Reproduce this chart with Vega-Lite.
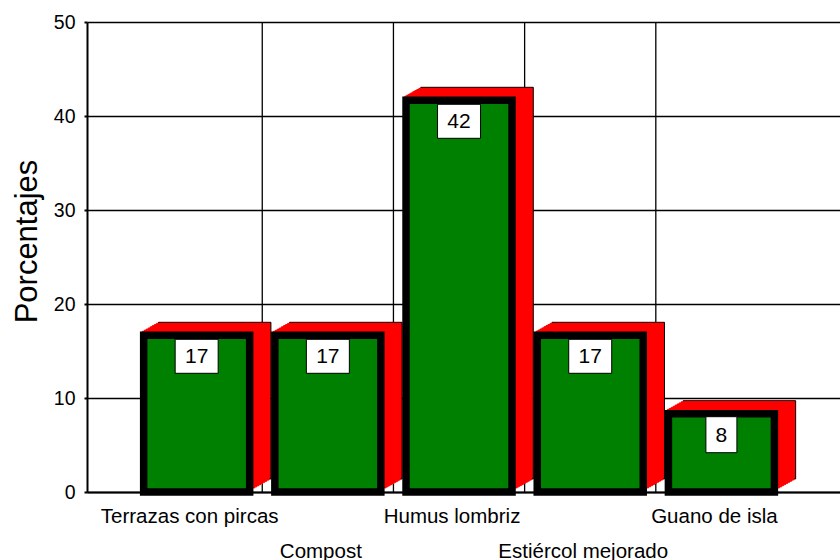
{
  "$schema": "https://vega.github.io/schema/vega-lite/v6.json",
  "width": 753,
  "height": 470,
  "autosize": {"type": "none"},
  "padding": {"left": 87, "top": 22, "right": 0, "bottom": 68},
  "background": "white",
  "config": {"view": {"stroke": null}, "font": "Liberation Sans"},
  "data": {
    "values": [
      {"cat": "Terrazas con pircas", "v": 16.67},
      {"cat": "Compost", "v": 16.67},
      {"cat": "Humus lombriz", "v": 41.67},
      {"cat": "Estiércol mejorado", "v": 16.67},
      {"cat": "Guano de isla", "v": 8.33}
    ]
  },
  "encoding": {
    "x": {
      "field": "cat",
      "type": "nominal",
      "sort": null,
      "scale": {
        "type": "band",
        "domain": ["Terrazas con pircas", "Compost", "Humus lombriz", "Estiércol mejorado", "Guano de isla"],
        "paddingInner": 0,
        "paddingOuter": 0.37,
        "align": 0.454
      },
      "axis": {
        "title": null,
        "domain": true,
        "domainColor": "black",
        "domainWidth": 2,
        "ticks": false,
        "grid": false,
        "labelFont": "Liberation Sans",
        "labelFontSize": 20.5,
        "labelColor": "black",
        "labelAngle": 0,
        "labelBaseline": "alphabetic",
        "labelPadding": 30,
        "labelLineHeight": 35,
        "labelOffset": -7,
        "labelLimit": 0,
        "labelOverlap": false,
        "labelExpr": "indexof(['Compost','Estiércol mejorado'], datum.value) >= 0 ? ['', datum.label] : datum.label"
      }
    },
    "y": {
      "field": "v",
      "type": "quantitative",
      "scale": {"domain": [0, 50], "nice": false},
      "axis": {
        "title": "Porcentajes",
        "titleFont": "Liberation Sans",
        "titleFontSize": 31,
        "titleFontWeight": "normal",
        "titleColor": "black",
        "titleAngle": -90,
        "titleAlign": "center",
        "titleBaseline": "alphabetic",
        "titleX": -51,
        "titleY": 219,
        "values": [0, 10, 20, 30, 40, 50],
        "grid": true,
        "gridColor": "black",
        "gridWidth": 1.3,
        "gridOpacity": 1,
        "domainColor": "black",
        "domainWidth": 2,
        "tickColor": "black",
        "tickSize": 3,
        "tickWidth": 2,
        "labelFont": "Liberation Sans",
        "labelFontSize": 19.5,
        "labelColor": "black",
        "labelPadding": 9
      }
    }
  },
  "layer": [
    {
      "transform": [{"filter": "datum.cat !== 'Guano de isla'"}],
      "mark": {"type": "rule", "color": "black", "strokeWidth": 1.3},
      "encoding": {
        "x": {"field": "cat", "type": "nominal", "bandPosition": 1},
        "y": {"datum": 0},
        "y2": {"datum": 50}
      }
    },
    {"mark": {"type": "bar", "width": 112.5, "xOffset": 18, "yOffset": -13, "y2Offset": -9, "fill": "#ff0000", "stroke": "black", "strokeWidth": 1}},
    {"mark": {"type": "bar", "width": 112.5, "xOffset": 16, "yOffset": -11.9, "y2Offset": -7.9, "fill": "#ff0000", "stroke": "#ff0000", "strokeWidth": 1}},
    {"mark": {"type": "bar", "width": 112.5, "xOffset": 14, "yOffset": -10.8, "y2Offset": -6.8, "fill": "#ff0000", "stroke": "#ff0000", "strokeWidth": 1}},
    {"mark": {"type": "bar", "width": 112.5, "xOffset": 12, "yOffset": -9.7, "y2Offset": -5.7, "fill": "#ff0000", "stroke": "#ff0000", "strokeWidth": 1}},
    {"mark": {"type": "bar", "width": 112.5, "xOffset": 10, "yOffset": -8.6, "y2Offset": -4.6, "fill": "#ff0000", "stroke": "#ff0000", "strokeWidth": 1}},
    {"mark": {"type": "bar", "width": 112.5, "xOffset": 8, "yOffset": -7.4, "y2Offset": -3.4, "fill": "#ff0000", "stroke": "#ff0000", "strokeWidth": 1}},
    {"mark": {"type": "bar", "width": 112.5, "xOffset": 6, "yOffset": -6.3, "y2Offset": -2.3, "fill": "#ff0000", "stroke": "#ff0000", "strokeWidth": 1}},
    {"mark": {"type": "bar", "width": 112.5, "xOffset": 4, "yOffset": -5.2, "y2Offset": -1.2, "fill": "#ff0000", "stroke": "#ff0000", "strokeWidth": 1}},
    {"mark": {"type": "bar", "width": 112.5, "xOffset": 2, "yOffset": -4.1, "y2Offset": -0.1, "fill": "#ff0000", "stroke": "#ff0000", "strokeWidth": 1}},
    {"mark": {"type": "bar", "width": 106, "fill": "#008000", "stroke": "black", "strokeWidth": 7.5}},
    {
      "transform": [{"filter": "datum.v >= 10"}],
      "mark": {"type": "bar", "width": 43, "yOffset": 4, "y2Offset": 38, "fill": "white", "stroke": "black", "strokeWidth": 1},
      "encoding": {"y2": {"field": "v"}}
    },
    {
      "transform": [{"filter": "datum.v < 10"}],
      "mark": {"type": "bar", "width": 31, "yOffset": 3, "y2Offset": 39, "fill": "white", "stroke": "black", "strokeWidth": 1},
      "encoding": {"y2": {"field": "v"}}
    },
    {
      "mark": {"type": "text", "font": "Liberation Sans", "fontSize": 21, "color": "black", "baseline": "middle", "yOffset": 22},
      "encoding": {"text": {"field": "v", "type": "quantitative", "format": ".0f"}}
    }
  ]
}
